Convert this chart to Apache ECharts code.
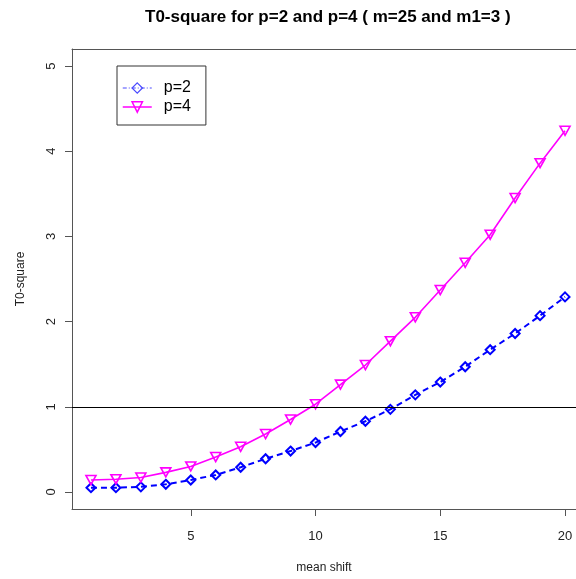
<!DOCTYPE html>
<html>
<head>
<meta charset="utf-8">
<script src="https://cdn.jsdelivr.net/npm/echarts@6/dist/echarts.min.js"></script>
<style>
  html, body { margin: 0; padding: 0; background: #ffffff; }
  #chart { width: 576px; height: 579px; }
</style>
</head>
<body>
<div id="chart"></div>
<script>
// ---- data ----
const meanShift = [1,2,3,4,5,6,7,8,9,10,11,12,13,14,15,16,17,18,19,20];
const p2Values = [0.05,0.05,0.06,0.09,0.14,0.20,0.29,0.39,0.48,0.58,0.71,0.83,0.97,1.14,1.29,1.47,1.67,1.86,2.07,2.29];
const p4Values = [0.14,0.15,0.17,0.23,0.30,0.41,0.53,0.68,0.85,1.03,1.26,1.49,1.77,2.05,2.37,2.69,3.02,3.45,3.86,4.24];
const xTicks = [5,10,15,20];
const yTicks = [0,1,2,3,4,5];
const refLine = [1];
const seriesNames = ['p=2','p=4'];
const titleText = 'T0-square for p=2 and p=4 ( m=25 and m1=3 )';
const xName = 'mean shift';
const yName = 'T0-square';

const font = '"Liberation Sans", Arial, sans-serif';
const axisColor = '#555';
const chart = echarts.init(document.getElementById('chart'), null, { renderer: 'canvas' });

chart.setOption({
  backgroundColor: '#ffffff',
  animation: false,
  title: {
    text: titleText,
    left: 145, top: 9, padding: 0,
    textStyle: { fontFamily: font, fontSize: 17, fontWeight: 'bold', color: '#000' }
  },
  legend: {
    orient: 'vertical',
    left: 117, top: 66,
    padding: [14, 15, 10, 5],
    itemGap: 3,
    itemWidth: 29, itemHeight: 13,
    borderColor: '#333', borderWidth: 1,
    textStyle: { fontFamily: font, fontSize: 16, color: '#000', padding: [0,0,0,7], lineHeight: 16 },
    data: [
      { name: seriesNames[0], lineStyle: { width: 1, type: [4,2,1,2], color: '#4a4aff' }, itemStyle: { borderColor: '#4a4aff', borderWidth: 1.2 } },
      { name: seriesNames[1], lineStyle: { width: 1.5 }, itemStyle: { borderWidth: 1.5 } }
    ]
  },
  grid: {
    left: 72, top: 49, right: 0, bottom: 69, show: false
  },
  xAxis: [
    {
      type: 'value', min: 0.24, max: 20.44, position: 'bottom',
      name: xName, nameLocation: 'middle', nameGap: 53,
      nameTextStyle: { fontFamily: font, fontSize: 12, color: '#222' },
      axisLine: { show: true, onZero: false, lineStyle: { color: axisColor, width: 1 } },
      splitLine: { show: false },
      axisTick: { show: true, length: 7, lineStyle: { color: axisColor }, customValues: xTicks },
      axisLabel: { fontFamily: font, fontSize: 13, color: '#222', margin: 21, customValues: xTicks }
    },
    {
      type: 'value', min: 0.24, max: 20.44, position: 'top',
      axisLine: { show: true, onZero: false, lineStyle: { color: axisColor, width: 1 } },
      splitLine: { show: false },
      axisTick: { show: false },
      axisLabel: { show: false }
    }
  ],
  yAxis: {
    type: 'value', min: -0.2, max: 5.2,
    name: yName, nameLocation: 'middle', nameGap: 45, nameRotate: 90,
    nameTextStyle: { fontFamily: font, fontSize: 12, color: '#222' },
    axisLine: { show: true, onZero: false, lineStyle: { color: axisColor, width: 1 } },
    splitLine: { show: false },
    axisTick: { show: true, length: 7, lineStyle: { color: axisColor }, customValues: yTicks },
    axisLabel: { fontFamily: font, fontSize: 13, color: '#222', margin: 14, rotate: 90, customValues: yTicks }
  },
  series: [
    {
      name: seriesNames[0], type: 'line',
      data: meanShift.map((x, i) => [x, p2Values[i]]),
      symbol: 'diamond', symbolSize: 9,
      lineStyle: { color: '#0000ff', width: 2, type: [6, 4] },
      itemStyle: { color: 'rgba(0,0,0,0)', borderColor: '#0000ff', borderWidth: 2 },
      z: 3,
      markLine: {
        silent: true, symbol: 'none', label: { show: false },
        lineStyle: { color: '#000', type: 'solid', width: 1 },
        data: refLine.map(v => ({ yAxis: v }))
      }
    },
    {
      name: seriesNames[1], type: 'line',
      data: meanShift.map((x, i) => [x, p4Values[i]]),
      symbol: 'triangle', symbolRotate: 180, symbolSize: [10, 9],
      lineStyle: { color: '#ff00ff', width: 1.6, type: 'solid' },
      itemStyle: { color: 'rgba(0,0,0,0)', borderColor: '#ff00ff', borderWidth: 1.6 },
      z: 4
    }
  ]
});
</script>
</body>
</html>
